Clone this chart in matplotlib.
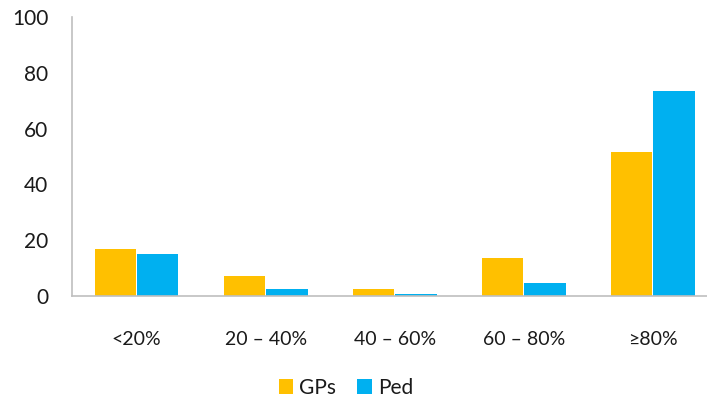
import numpy as np
import matplotlib.pyplot as plt

plt.rcParams['font.family'] = ['Lato', 'DejaVu Sans']

categories = ['<20%', '20 – 40%', '40 – 60%', '60 – 80%', '≥80%']
gps = [17, 7, 2.6, 13.5, 51.5]
ped = [15, 2.6, 0.8, 4.5, 73.6]

fig = plt.figure(figsize=(7.07, 4.01), dpi=100)
ax = fig.add_axes([72 / 707, 105 / 401, 635 / 707, 279 / 401])

x = np.arange(len(categories))
w = 0.32
ax.bar(x - w / 2 - 0.005, gps, w, color='#FFC000', label='GPs')
ax.bar(x + w / 2 + 0.005, ped, w, color='#00B0F0', label='Ped')

ax.set_xlim(-0.5, 4.42)
ax.set_ylim(0, 100)
ax.set_yticks([0, 20, 40, 60, 80, 100])
ax.set_xticks(x)
ax.set_xticklabels(categories)
ax.tick_params(axis='y', length=0, pad=17, labelsize=15, labelcolor='#1a1a1a')
ax.tick_params(axis='x', length=0, pad=25, labelsize=14, labelcolor='#1a1a1a')

for s in ['top', 'right']:
    ax.spines[s].set_visible(False)
ax.spines['left'].set_color('#bfbfbf')
ax.spines['bottom'].set_color('#bfbfbf')
ax.spines['left'].set_linewidth(1.2)
ax.spines['bottom'].set_linewidth(1.2)

fig.legend(loc='center', bbox_to_anchor=(346 / 707, 1 - 388 / 401), ncol=2,
           frameon=False, handlelength=0.7, handleheight=0.7, handletextpad=0.3,
           columnspacing=1.0, fontsize=15, labelcolor='#1a1a1a')

fig.savefig('out.png', dpi=100)
